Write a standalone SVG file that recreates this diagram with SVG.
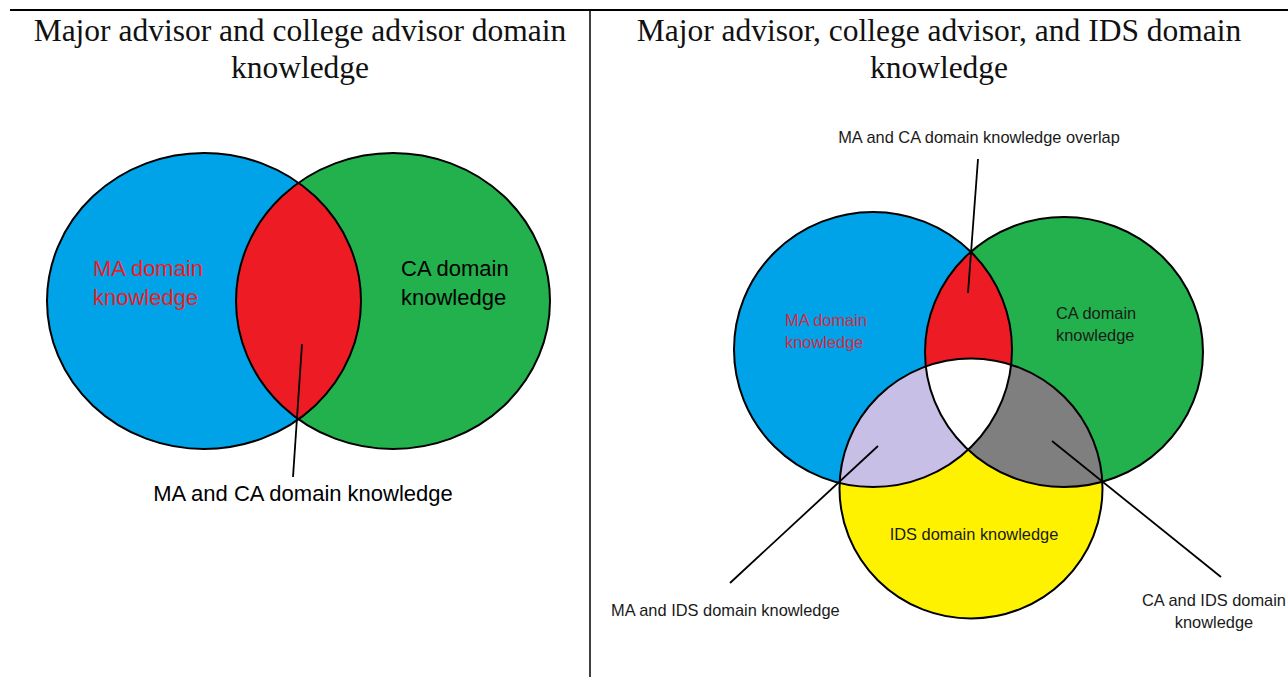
<svg xmlns="http://www.w3.org/2000/svg" width="1288" height="677" viewBox="0 0 1288 677">
  <style>
    .title { font-family: "Liberation Serif", "Times New Roman", serif; font-size: 31.5px; fill: #111; text-anchor: middle; }
    .lbl-l { font-family: "Liberation Sans", Arial, sans-serif; font-size: 22px; fill: #000; }
    .lbl-r { font-family: "Liberation Sans", Arial, sans-serif; font-size: 16.4px; fill: #1a1a1a; }
    .outline { fill: none; stroke: #000; stroke-width: 2; }
    .leader { stroke: #000; stroke-width: 1.8; fill: none; }
    .rule { stroke: #000; fill: none; }
  </style>
  <defs>
    <!-- left pair -->
    <ellipse id="l-ma" cx="204" cy="301" rx="157" ry="148"/>
    <ellipse id="l-ca" cx="393" cy="301" rx="157" ry="148"/>
    <clipPath id="clip-l-ma"><use href="#l-ma"/></clipPath>
    <!-- right triple -->
    <ellipse id="r-ma" cx="873" cy="349.5" rx="139" ry="137.5"/>
    <ellipse id="r-ca" cx="1064" cy="352" rx="139" ry="135"/>
    <ellipse id="r-ids" cx="971" cy="488.5" rx="131.5" ry="130"/>
    <clipPath id="clip-r-ma"><use href="#r-ma"/></clipPath>
    <clipPath id="clip-r-ca"><use href="#r-ca"/></clipPath>
  </defs>

  <rect width="1288" height="677" fill="#fff"/>

  <!-- table rules -->
  <g id="table">
    <line class="rule" x1="10" y1="10" x2="1288" y2="10" stroke-width="2"/>
    <line class="rule" x1="590" y1="10" x2="590" y2="677" stroke-width="1.5"/>
  </g>

  <!-- column titles -->
  <g id="title-left">
    <text class="title" x="300" y="41">Major advisor and college advisor domain</text>
    <text class="title" x="300" y="78">knowledge</text>
  </g>
  <g id="title-right">
    <text class="title" x="939" y="41">Major advisor, college advisor, and IDS domain</text>
    <text class="title" x="939" y="78">knowledge</text>
  </g>

  <!-- left diagram: two sets -->
  <g id="left-ma">
    <use href="#l-ma" fill="#00a2e8"/>
  </g>
  <g id="left-ca">
    <use href="#l-ca" fill="#22b14c"/>
  </g>
  <g id="left-overlap">
    <use href="#l-ca" fill="#ed1c24" clip-path="url(#clip-l-ma)"/>
  </g>
  <g id="left-outlines">
    <use href="#l-ma" class="outline"/>
    <use href="#l-ca" class="outline"/>
  </g>

  <!-- right diagram: three sets -->
  <g id="right-ma">
    <use href="#r-ma" fill="#00a2e8"/>
  </g>
  <g id="right-ca">
    <use href="#r-ca" fill="#22b14c"/>
  </g>
  <g id="right-ids">
    <use href="#r-ids" fill="#fff200"/>
  </g>
  <g id="right-ma-ca">
    <use href="#r-ca" fill="#ed1c24" clip-path="url(#clip-r-ma)"/>
  </g>
  <g id="right-ma-ids">
    <use href="#r-ids" fill="#c8bfe7" clip-path="url(#clip-r-ma)"/>
  </g>
  <g id="right-ca-ids">
    <use href="#r-ids" fill="#7f7f7f" clip-path="url(#clip-r-ca)"/>
  </g>
  <g id="right-all" clip-path="url(#clip-r-ma)">
    <use href="#r-ids" fill="#ffffff" clip-path="url(#clip-r-ca)"/>
  </g>
  <g id="right-outlines">
    <use href="#r-ma" class="outline"/>
    <use href="#r-ca" class="outline"/>
    <use href="#r-ids" class="outline"/>
  </g>

  <!-- leader lines -->
  <g id="connectors">
    <line class="leader" x1="302" y1="344" x2="293" y2="477"/>
    <line class="leader" x1="978" y1="159" x2="968" y2="293"/>
    <line class="leader" x1="878" y1="446" x2="730" y2="583"/>
    <line class="leader" x1="1052" y1="441" x2="1221" y2="577"/>
  </g>

  <!-- labels, left -->
  <g id="label-left-ma">
    <text class="lbl-l" x="93" y="276" style="fill:#ed1c24">MA domain</text>
    <text class="lbl-l" x="93" y="305" style="fill:#ed1c24">knowledge</text>
  </g>
  <g id="label-left-ca">
    <text class="lbl-l" x="401" y="276">CA domain</text>
    <text class="lbl-l" x="401" y="305">knowledge</text>
  </g>
  <g id="label-left-overlap">
    <text class="lbl-l" x="303" y="501" text-anchor="middle">MA and CA domain knowledge</text>
  </g>

  <!-- labels, right -->
  <g id="label-right-overlap">
    <text class="lbl-r" x="979" y="143" text-anchor="middle">MA and CA domain knowledge overlap</text>
  </g>
  <g id="label-right-ma">
    <text class="lbl-r" x="785" y="326" style="fill:#d42a45">MA domain</text>
    <text class="lbl-r" x="785" y="348" style="fill:#d42a45">knowledge</text>
  </g>
  <g id="label-right-ca">
    <text class="lbl-r" x="1056" y="319">CA domain</text>
    <text class="lbl-r" x="1056" y="341">knowledge</text>
  </g>
  <g id="label-right-ids">
    <text class="lbl-r" x="974" y="540" text-anchor="middle">IDS domain knowledge</text>
  </g>
  <g id="label-right-ma-ids">
    <text class="lbl-r" x="611" y="616">MA and IDS domain knowledge</text>
  </g>
  <g id="label-right-ca-ids">
    <text class="lbl-r" x="1214" y="606" text-anchor="middle">CA and IDS domain</text>
    <text class="lbl-r" x="1214" y="628" text-anchor="middle">knowledge</text>
  </g>
</svg>
